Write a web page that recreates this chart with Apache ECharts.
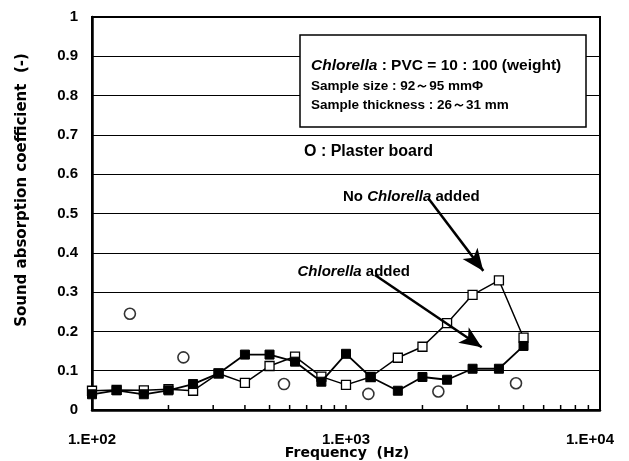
<!DOCTYPE html>
<html>
<head>
<meta charset="utf-8">
<script src="https://cdn.jsdelivr.net/npm/echarts@6/dist/echarts.min.js"></script>
<style>html,body{margin:0;padding:0;background:#fff}#c{width:629px;height:461px}</style>
</head>
<body>
<div id="c"></div>
<script>
// ---- data ----
const freqs = [100,125,160,200,250,315,400,500,630,800,1000,1250,1600,2000,2500,3150,4000,5000];
const noChlorella = [0.049,0.051,0.050,0.053,0.049,0.093,0.069,0.112,0.136,0.085,0.064,0.084,0.133,0.161,0.221,0.293,0.330,0.184];
const withChlorella = [0.040,0.050,0.040,0.050,0.066,0.093,0.141,0.141,0.123,0.072,0.143,0.084,0.049,0.084,0.077,0.105,0.105,0.163];
const plasterFreqs = [141,229,570,1225,2310,4670];
const plasterValues = [0.245,0.134,0.066,0.041,0.047,0.068];
const minorTickFreqs = [200,300,400,500,600,700,800,900,1000,2000,3000,4000,5000,6000,7000,8000,9000];
const xTickLabels = {100:'1.E+02',1000:'1.E+03',10000:'1.E+04'};
const arrowNo = [[2109,0.539],[3472,0.354]];
const arrowWith = [[1300,0.3435],[3421,0.1595]];

const LBL = "'Liberation Sans', Arial, sans-serif";

const chart = echarts.init(document.getElementById('c'), null, {renderer:'canvas'});
const pair = (xs, ys) => xs.map((x,i)=>[x, ys[i]]);

chart.setOption({
  animation:false,
  backgroundColor:'#fff',
  grid:{left:92,right:29,top:17,bottom:51,show:true,borderColor:'#000',borderWidth:2,backgroundColor:'transparent'},
  xAxis:{
    type:'log', logBase:10, min:100, max:10000, splitNumber:2,
    axisLine:{lineStyle:{color:'#000',width:2.5}},
    axisTick:{show:false},
    splitLine:{show:false},
    axisLabel:{
      margin:22, color:'#000', fontFamily:LBL, fontWeight:'bold', fontSize:15,
      formatter:(v)=>{ const t = xTickLabels[Math.round(v)] || ''; return Math.round(v)===10000 ? '{r|'+t+'}' : t; },
      rich:{r:{fontFamily:LBL,fontWeight:'bold',fontSize:15,color:'#000',padding:[0,20,0,0]}}
    }
  },
  yAxis:{
    type:'value', min:0, max:1, interval:0.1,
    axisLine:{show:true,lineStyle:{color:'#000',width:2.5}},
    axisTick:{show:false},
    splitLine:{lineStyle:{color:'#000',width:1}},
    axisLabel:{margin:14,color:'#000',fontFamily:LBL,fontWeight:'bold',fontSize:15,
      formatter:(v)=>String(Math.round(v*10)/10)}
  },
  series:[
    {
      type:'custom', silent:true, clip:false, z:1,
      data:minorTickFreqs.map(f=>[f,0]),
      renderItem:(params, api)=>{
        const p = api.coord([api.value(0), 0]);
        return {type:'line', shape:{x1:p[0],y1:p[1],x2:p[0],y2:p[1]-5}, style:{stroke:'#000',lineWidth:1.5}};
      }
    },
    {
      name:'No Chlorella added', type:'line', z:3,
      data:pair(freqs, noChlorella),
      symbol:'rect', symbolSize:9,
      itemStyle:{color:'#fff',borderColor:'#000',borderWidth:1.3},
      lineStyle:{color:'#000',width:1.5},
      markLine:{
        silent:true, symbol:['none','arrow'], symbolSize:[14,22],
        label:{show:false},
        lineStyle:{color:'#000',width:2.5,type:'solid'},
        data:[
          [{coord:arrowNo[0]},{coord:arrowNo[1]}],
          [{coord:arrowWith[0]},{coord:arrowWith[1]}]
        ]
      }
    },
    {
      name:'Chlorella added', type:'line', z:4,
      data:pair(freqs, withChlorella),
      symbol:'rect', symbolSize:9,
      itemStyle:{color:'#000',borderColor:'#000',borderWidth:1},
      lineStyle:{color:'#000',width:1.8}
    },
    {
      name:'Plaster board', type:'scatter', z:5,
      data:pair(plasterFreqs, plasterValues),
      symbol:'circle', symbolSize:11,
      itemStyle:{color:'#fff',borderColor:'#000',borderWidth:1.6}
    }
  ],
  graphic:[
    {type:'rect', z:100, shape:{x:300,y:35,width:286,height:92},
      style:{fill:'#fff',stroke:'#000',lineWidth:1.5}},
    {type:'text', z:101, x:311, y:66,
      style:{text:'{i|Chlorella} : PVC = 10 : 100 (weight)', fill:'#000', font:"bold 15.5px 'Liberation Sans'",
        verticalAlign:'middle',
        rich:{i:{fontStyle:'italic',fontWeight:'bold',fontSize:15.5,fontFamily:'Liberation Sans',fill:'#000'}}}},
    {type:'text', z:101, x:311, y:86,
      style:{text:'Sample size : 92～95 mmΦ', fill:'#000', font:"bold 13.5px 'Liberation Sans'", verticalAlign:'middle'}},
    {type:'text', z:101, x:311, y:105,
      style:{text:'Sample thickness : 26～31 mm', fill:'#000', font:"bold 13.5px 'Liberation Sans'", verticalAlign:'middle'}},
    {type:'text', z:101, x:304, y:152,
      style:{text:'O : Plaster board', fill:'#000', font:"bold 16px 'Liberation Sans'", verticalAlign:'middle'}},
    {type:'text', z:101, x:343, y:197,
      style:{text:'No {i|Chlorella} added', fill:'#000', font:"bold 15px 'Liberation Sans'", verticalAlign:'middle',
        rich:{i:{fontStyle:'italic',fontWeight:'bold',fontSize:15,fontFamily:'Liberation Sans',fill:'#000'}}}},
    {type:'text', z:101, x:410, y:272,
      style:{text:'{i|Chlorella} added', fill:'#000', font:"bold 15px 'Liberation Sans'", verticalAlign:'middle', align:'right',
        rich:{i:{fontStyle:'italic',fontWeight:'bold',fontSize:15,fontFamily:'Liberation Sans',fill:'#000'}}}},
    {type:'text', z:101, x:22, y:190, rotation:Math.PI/2,
      style:{text:'Sound absorption coefficient  (-)', fill:'#000', font:"bold 15px 'DejaVu Sans'", align:'center', verticalAlign:'middle'}},
    {type:'text', z:101, x:347, y:453,
      style:{text:'Frequency  (Hz)', fill:'#000', font:"bold 14px 'DejaVu Sans'", align:'center', verticalAlign:'middle'}}
  ]
});
</script>
</body>
</html>
